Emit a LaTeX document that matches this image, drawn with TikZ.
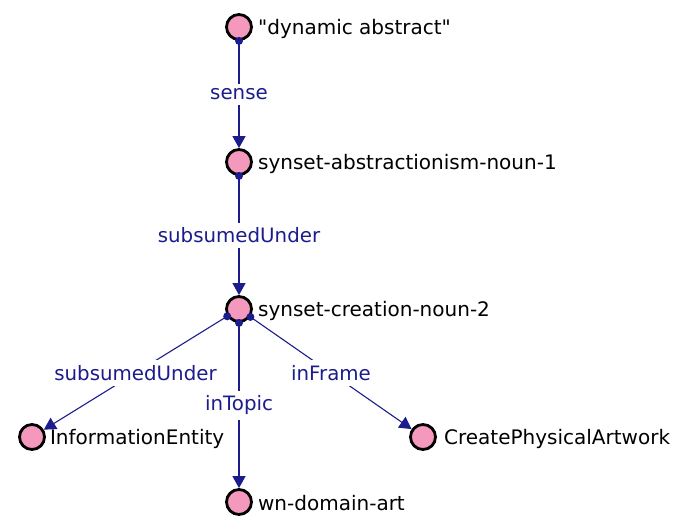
\documentclass[tikz,border=0pt]{standalone}
\usepackage{fontspec}
\setmainfont{DejaVu Sans}[Ligatures=TeXOff]
\usetikzlibrary{arrows.meta,positioning}
\definecolor{RelNavy}{HTML}{1C1C8C}
\definecolor{EntPink}{HTML}{F598BE}
\tikzset{ent/.style={circle,draw=black,line width=2.8pt,fill=EntPink,minimum size=25pt,inner sep=0pt},
  entname/.style={inner sep=0pt,yshift=-1.5pt,font=\fontsize{20}{23}\selectfont},
  rel/.style={-{Triangle[length=12pt,width=13pt]},RelNavy,line width=1.1pt},
  rellab/.style={fill=white,text=RelNavy,inner sep=5pt,font=\fontsize{19.8}{23}\selectfont},
  srcdot/.style={circle,fill=RelNavy,minimum size=8pt,inner sep=0pt}}
\begin{document}
\begin{tikzpicture}[x=1pt,y=-1pt]
\useasboundingbox (0,0) rectangle (681,519);
% entities
\node[ent] (dyn) at (239,27) {};
\node[ent] (abs) at (239,162) {};
\node[ent] (cre) at (239,309) {};
\node[ent] (info) at (32,437) {};
\node[ent] (art) at (239,502) {};
\node[ent] (frame) at (423,437) {};
\node[entname,right=5pt of dyn] (dynT) {"dynamic abstract"};
\node[entname,right=5pt of abs] (absT) {synset-abstractionism-noun-1};
\node[entname,right=5pt of cre] (creT) {synset-creation-noun-2};
\node[entname,right=4pt of info] (infoT) {InformationEntity};
\node[entname,right=5pt of art] (artT) {wn-domain-art};
\node[entname,right=7pt of frame] (frameT) {CreatePhysicalArtwork};
% relations
\draw[rel] (dyn) -- node[srcdot,pos=0] (dynS) {} node[rellab] (senseL) {sense} (abs);
\draw[rel] (abs) -- node[srcdot,pos=0] (absS) {} node[rellab] (subL) {subsumedUnder} (cre);
\draw[rel] (cre) -- node[srcdot,pos=0] (creS1) {} node[rellab] (sub2L) {subsumedUnder} (info);
\draw[rel] (cre) -- node[srcdot,pos=0] (creS2) {} node[rellab] (topicL) {inTopic} (art);
\draw[rel] (cre) -- node[srcdot,pos=0] (creS3) {} node[rellab] (frameL) {inFrame} (frame);
\end{tikzpicture}
\end{document}
